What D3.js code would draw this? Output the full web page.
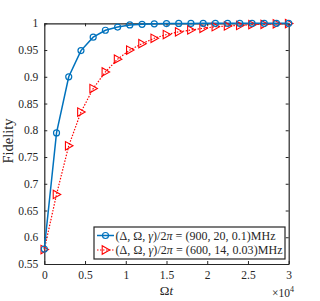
<!DOCTYPE html>
<html><head><meta charset="utf-8">
<script src="https://cdn.jsdelivr.net/npm/d3@7"></script>
<style>body{margin:0;background:#fff}svg{display:block}text{font-family:"Liberation Serif","Times New Roman",serif;fill:#262626}</style>
</head><body>
<script>
const times = d3.range(0, 30001, 1500);
const blueValues = [0.578, 0.795, 0.900, 0.949, 0.974, 0.987, 0.993, 0.997, 0.998, 0.999, 0.9995, 0.9997, 0.9998, 0.9999, 1, 1, 1, 1, 1, 1, 1];
const redValues = [0.577, 0.680, 0.771, 0.834, 0.878, 0.909, 0.933, 0.950, 0.962, 0.972, 0.979, 0.984, 0.9875, 0.9906, 0.9937, 0.995, 0.996, 0.9975, 0.998, 0.999, 0.9995];
const xTicks = [0, 5000, 10000, 15000, 20000, 25000, 30000];
const xTickLabels = ["0", "0.5", "1", "1.5", "2", "2.5", "3"];
const yTicks = [0.55, 0.6, 0.65, 0.7, 0.75, 0.8, 0.85, 0.9, 0.95, 1];
const yTickLabels = ["0.55", "0.6", "0.65", "0.7", "0.75", "0.8", "0.85", "0.9", "0.95", "1"];

const W = 320, H = 301;
const m = {l: 44.3, r: W - 288.7, t: 23.3, b: H - 264};
const svg = d3.select("body").append("svg").attr("width", W).attr("height", H);
const x = d3.scaleLinear().domain([0, 30000]).range([m.l, W - m.r]);
const y = d3.scaleLinear().domain([0.55, 1]).range([H - m.b, m.t]);
const axCol = "#262626";

// axes
const fmtX = (d, i) => xTickLabels[i];
const fmtY = (d, i) => yTickLabels[i];
const gx = svg.append("g").attr("transform", `translate(0,${H - m.b})`)
  .call(d3.axisBottom(x).tickValues(xTicks).tickFormat(fmtX).tickSizeInner(-3).tickSizeOuter(0).tickPadding(7));
const gxt = svg.append("g").attr("transform", `translate(0,${m.t})`)
  .call(d3.axisTop(x).tickValues(xTicks).tickFormat("").tickSizeInner(-3).tickSizeOuter(0));
const gy = svg.append("g").attr("transform", `translate(${m.l},0)`)
  .call(d3.axisLeft(y).tickValues(yTicks).tickFormat(fmtY).tickSizeInner(-3).tickSizeOuter(0).tickPadding(6));
const gyr = svg.append("g").attr("transform", `translate(${W - m.r},0)`)
  .call(d3.axisRight(y).tickValues(yTicks).tickFormat("").tickSizeInner(-3).tickSizeOuter(0));
[gx, gxt, gy, gyr].forEach(g => {
  g.selectAll("path.domain").attr("stroke", axCol).attr("stroke-width", 1.2);
  g.selectAll(".tick line").attr("stroke", axCol);
  g.selectAll(".tick text").attr("font-size", 11.5).attr("font-family", '"Liberation Serif",serif').attr("fill", axCol);
});

// lines
const blueCol = "#0072BD", redCol = "#FF0000";
const line = vals => d3.line().x((d, i) => x(times[i])).y(d => y(d))(vals);
const plot = svg.append("g");
plot.append("path").attr("d", line(redValues)).attr("fill", "none").attr("stroke", redCol).attr("stroke-width", 1.2).attr("stroke-dasharray", "1.5,1.5");
plot.append("path").attr("d", line(blueValues)).attr("fill", "none").attr("stroke", blueCol).attr("stroke-width", 1.5);

const triPath = "M4.2,0L-3.3,-4.2L-3.3,4.2Z";
plot.selectAll("path.tri").data(redValues).join("path").attr("class", "tri")
  .attr("d", triPath).attr("transform", (d, i) => `translate(${x(times[i])},${y(d)})`)
  .attr("fill", "none").attr("stroke", redCol).attr("stroke-width", 1.1);
plot.selectAll("circle.c").data(blueValues).join("circle").attr("class", "c")
  .attr("cx", (d, i) => x(times[i])).attr("cy", d => y(d)).attr("r", 3)
  .attr("fill", "none").attr("stroke", blueCol).attr("stroke-width", 1.2);

// axis labels
svg.append("text").attr("transform", `translate(13,${141}) rotate(-90)`)
  .attr("text-anchor", "middle").attr("font-size", 14.5).text("Fidelity");
const xl = svg.append("text").attr("x", x(15000)).attr("y", 295).attr("text-anchor", "middle").attr("font-size", 13);
xl.append("tspan").text("Ω");
xl.append("tspan").attr("font-style", "italic").text("t");
const ex = svg.append("text").attr("x", 272).attr("y", 297).attr("font-size", 11.5);
ex.append("tspan").text("×10");
ex.append("tspan").attr("dy", -5).attr("font-size", 8).text("4");

// legend
const lg = svg.append("g");
lg.append("rect").attr("x", 94).attr("y", 227).attr("width", 191).attr("height", 32)
  .attr("fill", "#fff").attr("stroke", axCol).attr("stroke-width", 1.2);
const legendItems = [
  {col: blueCol, dash: null, mk: "c", params: "(900, 20, 0.1)MHz", yy: 235.5, len: 160},
  {col: redCol, dash: "1.5,1.5", mk: "t", params: "(600, 14, 0.03)MHz", yy: 250, len: 167}
];
legendItems.forEach(it => {
  lg.append("line").attr("x1", 97).attr("x2", 114).attr("y1", it.yy).attr("y2", it.yy)
    .attr("stroke", it.col).attr("stroke-width", it.dash ? 1.2 : 1.5).attr("stroke-dasharray", it.dash);
  if (it.mk === "c") lg.append("circle").attr("cx", 105.5).attr("cy", it.yy).attr("r", 3).attr("fill", "none").attr("stroke", it.col).attr("stroke-width", 1.2);
  else lg.append("path").attr("d", triPath).attr("transform", `translate(105.5,${it.yy})`).attr("fill", "none").attr("stroke", it.col).attr("stroke-width", 1.1);
  const t = lg.append("text").attr("x", 115.5).attr("y", it.yy + 4).attr("font-size", 12)
    .attr("textLength", it.len).attr("lengthAdjust", "spacing");
  t.append("tspan").text("(Δ, Ω, ");
  t.append("tspan").attr("font-style", "italic").text("γ");
  t.append("tspan").text(")/2");
  t.append("tspan").attr("font-style", "italic").text("π");
  t.append("tspan").text(" = " + it.params);
});
</script>
</body></html>
